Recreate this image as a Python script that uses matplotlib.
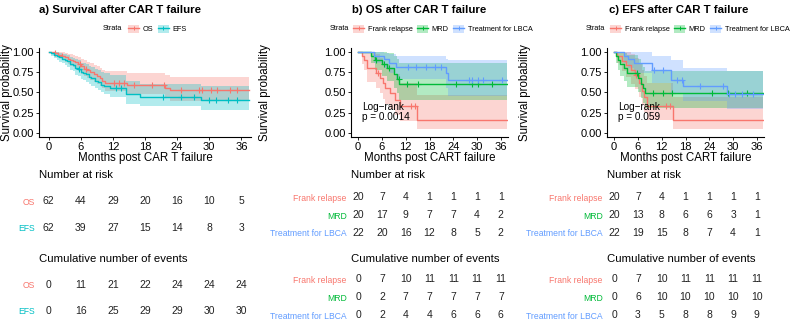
import matplotlib
matplotlib.use("Agg")
import matplotlib.pyplot as plt
from matplotlib.patches import Patch
from matplotlib.lines import Line2D
import numpy as np

plt.rcParams["font.family"] = ["Liberation Sans", "DejaVu Sans"]

RED = "#F8766D"
TEAL = "#00BFC4"
GREEN = "#00BA38"
BLUE = "#619CFF"

# months shown under the curves
risk_times = [0, 6, 12, 18, 24, 30, 36]

# ---------- a) all patients, OS vs EFS ----------
a_os_t = [0, 1.2, 1.8, 2.5, 3.0, 3.6, 4.0, 4.5, 5.0, 5.5, 6.0, 6.6, 7.2, 7.8, 8.4, 9.0, 9.6, 10.0, 10.5, 14.6, 21.7, 22.6]
a_os_s = [1, 0.984, 0.968, 0.952, 0.935, 0.919, 0.903, 0.887, 0.871, 0.855, 0.823, 0.79, 0.774, 0.758, 0.725, 0.709, 0.677, 0.645, 0.62, 0.59, 0.555, 0.525]
a_os_lo = [1, 0.95, 0.93, 0.90, 0.88, 0.85, 0.83, 0.81, 0.79, 0.77, 0.73, 0.70, 0.68, 0.66, 0.63, 0.61, 0.58, 0.55, 0.52, 0.48, 0.43, 0.39]
a_os_hi = [1, 1, 1, 1, 0.99, 0.98, 0.97, 0.96, 0.95, 0.94, 0.92, 0.90, 0.88, 0.87, 0.84, 0.83, 0.80, 0.78, 0.76, 0.74, 0.72, 0.69]
a_os_cens = [1.2, 2.5, 5.8, 7.0, 12.2, 13.1, 14.0, 16.0, 19.4, 21.5, 24.7, 28.0, 28.6, 30.3, 31.5, 33.8, 35.2]

a_efs_t = [0, 0.5, 1.0, 1.5, 2.0, 2.5, 3.0, 3.5, 4.0, 4.5, 5.0, 5.5, 6.0, 6.5, 7.0, 7.5, 8.0, 8.6, 9.2, 9.8, 10.4, 11.5, 14.5, 17.1, 28.5]
a_efs_s = [1, 0.984, 0.968, 0.952, 0.935, 0.919, 0.903, 0.887, 0.855, 0.839, 0.806, 0.79, 0.758, 0.742, 0.726, 0.694, 0.677, 0.645, 0.629, 0.597, 0.58, 0.56, 0.48, 0.45, 0.41]
a_efs_lo = [1, 0.95, 0.93, 0.90, 0.88, 0.86, 0.84, 0.82, 0.78, 0.76, 0.72, 0.70, 0.67, 0.65, 0.63, 0.60, 0.58, 0.55, 0.53, 0.50, 0.48, 0.45, 0.36, 0.33, 0.28]
a_efs_hi = [1, 1, 1, 1, 0.99, 0.98, 0.97, 0.96, 0.94, 0.93, 0.91, 0.90, 0.87, 0.86, 0.85, 0.83, 0.81, 0.79, 0.78, 0.75, 0.74, 0.72, 0.64, 0.61, 0.58]
a_efs_cens = [5.6, 12.6, 13.5, 21.3, 24.7, 27.2, 30.0, 31.2, 33.5, 35.2]

a_labels = ["OS", "EFS"]
a_risk = [[62, 44, 29, 20, 16, 10, 5],
          [62, 39, 27, 15, 14, 8, 3]]
a_events = [[0, 11, 21, 22, 24, 24, 24],
            [0, 16, 25, 29, 29, 30, 30]]

# ---------- b) OS by group ----------
groups = ["Frank relapse", "MRD", "Treatment for LBCA"]

b_fr_t = [0, 0.9, 1.6, 2.3, 4.6, 5.4, 6.2, 6.8, 8.1, 9.3, 10.5, 14.8]
b_fr_s = [1, 0.95, 0.90, 0.80, 0.74, 0.68, 0.62, 0.56, 0.49, 0.41, 0.33, 0.16]
b_fr_lo = [1, 0.85, 0.78, 0.63, 0.56, 0.49, 0.42, 0.36, 0.29, 0.22, 0.15, 0.05]
b_fr_hi = [1, 1, 1, 1, 0.97, 0.93, 0.89, 0.85, 0.80, 0.73, 0.62, 0.47]
b_fr_cens = [5.0, 13.4, 14.3]

b_mrd_t = [0, 3.3, 4.3, 6.0, 7.3, 9.0, 9.8, 10.4]
b_mrd_s = [1, 0.95, 0.90, 0.85, 0.80, 0.73, 0.67, 0.60]
b_mrd_lo = [1, 0.86, 0.78, 0.71, 0.64, 0.56, 0.49, 0.41]
b_mrd_hi = [1, 1, 1, 1, 0.99, 0.95, 0.91, 0.87]
b_mrd_cens = [4.4, 6.6, 7.9, 10.2, 12.3, 15.0, 24.6, 28.6, 30.3, 33.7]

b_lb_t = [0, 3.9, 6.4, 7.8, 9.5, 22.1, 22.7]
b_lb_s = [1, 0.95, 0.91, 0.87, 0.82, 0.74, 0.65]
b_lb_lo = [1, 0.87, 0.80, 0.74, 0.67, 0.56, 0.46]
b_lb_hi = [1, 1, 0.99, 0.97, 0.95, 0.92, 0.90]
b_lb_cens = [12.5, 14.5, 17.0, 19.3, 21.0, 28.0, 28.8, 30.3, 31.5, 36.2]

b_risk = [[20, 7, 4, 1, 1, 1, 1],
          [20, 17, 9, 7, 7, 4, 2],
          [22, 20, 16, 12, 8, 5, 2]]
b_events = [[0, 7, 10, 11, 11, 11, 11],
            [0, 2, 7, 7, 7, 7, 7],
            [0, 2, 4, 4, 6, 6, 6]]

# ---------- c) EFS by group ----------
c_fr_t = [0, 0.8, 2.1, 3.0, 4.2, 5.3, 6.2, 7.0, 7.6, 8.2, 14.8]
c_fr_s = [1, 0.95, 0.89, 0.84, 0.78, 0.72, 0.62, 0.52, 0.44, 0.33, 0.16]
c_fr_lo = [1, 0.86, 0.77, 0.69, 0.61, 0.54, 0.44, 0.34, 0.26, 0.16, 0.05]
c_fr_hi = [1, 1, 1, 1, 0.97, 0.93, 0.86, 0.78, 0.70, 0.62, 0.45]
c_fr_cens = [5.5, 13.1, 14.0]

c_mrd_t = [0, 0.5, 1.0, 1.5, 2.5, 3.3, 6.0, 6.7, 7.3, 7.9]
c_mrd_s = [1, 0.95, 0.90, 0.85, 0.80, 0.74, 0.68, 0.61, 0.55, 0.49]
c_mrd_lo = [1, 0.86, 0.78, 0.71, 0.64, 0.57, 0.50, 0.43, 0.37, 0.31]
c_mrd_hi = [1, 1, 1, 1, 0.99, 0.96, 0.92, 0.87, 0.82, 0.77]
c_mrd_cens = [5.8, 9.9, 12.2, 14.7, 24.6, 28.6, 33.6]

c_lb_t = [0, 2.5, 3.5, 5.0, 9.6, 14.3, 17.3, 28.4]
c_lb_s = [1, 0.95, 0.91, 0.87, 0.78, 0.66, 0.58, 0.48]
c_lb_lo = [1, 0.87, 0.80, 0.74, 0.62, 0.48, 0.40, 0.30]
c_lb_hi = [1, 1, 1, 1, 0.95, 0.90, 0.80, 0.77]
c_lb_cens = [10.1, 12.3, 15.8, 17.0, 21.6, 27.5, 28.9, 30.5, 32.2, 35.0]

c_risk = [[20, 7, 4, 1, 1, 1, 1],
          [20, 13, 8, 6, 6, 3, 1],
          [22, 19, 15, 8, 7, 4, 1]]
c_events = [[0, 7, 10, 11, 11, 11, 11],
            [0, 6, 10, 10, 10, 10, 10],
            [0, 3, 5, 8, 8, 9, 9]]

END = 37.5  # last follow-up drawn

W, H = 790, 333
fig = plt.figure(figsize=(W / 100, H / 100), dpi=100)


def px_axes(l, t, r, b):
    return fig.add_axes([l / W, 1 - b / H, (r - l) / W, (b - t) / H])


def km_plot(l, r, curves, colors, xlabel, ylab_x, pval=None):
    ax = px_axes(l, 48, r, 137)
    for (t, s, lo, hi, cens), col in zip(curves, colors):
        tt = t + [END]
        ax.fill_between(tt, lo + [lo[-1]], hi + [hi[-1]], step="post",
                        color=col, alpha=0.3, lw=0)
    for (t, s, lo, hi, cens), col in zip(curves, colors):
        ax.step(t + [END], s + [s[-1]], where="post", color=col, lw=1.0)
        k = np.searchsorted(t, cens, side="right") - 1
        ax.plot(cens, np.asarray(s)[k], ls="none", marker="+", ms=4.5,
                mew=0.8, color=col)
    ax.set_xlim(-1.8, 37.8)
    ax.set_ylim(-0.05, 1.05)
    ax.set_xticks(risk_times)
    ax.set_yticks([0, 0.25, 0.5, 0.75, 1.0])
    ax.yaxis.set_major_formatter("{x:.2f}")
    ax.tick_params(labelsize=8, length=2.5, width=0.6, pad=1.2, colors="black")
    for side in ["top", "right"]:
        ax.spines[side].set_visible(False)
    for side in ["left", "bottom"]:
        ax.spines[side].set_linewidth(0.8)
    ax.set_xlabel(xlabel, fontsize=8.3, labelpad=0)
    ax.set_ylabel("Survival probability", fontsize=8.3)
    ax.yaxis.set_label_coords((ylab_x + 6 - l) / (r - l), 0.5)
    if pval:
        ax.text(0.9, 0.26, "Log\u2212rank\np = " + pval, fontsize=7.2,
                va="center", linespacing=0.95)
    return ax


def table(l, r, title, title_y, row_ys, labels, colors, rows):
    sp = row_ys[1] - row_ys[0]
    ax = px_axes(l, row_ys[0] - sp / 2, r, row_ys[-1] + sp / 2)
    n = len(rows)
    ax.set_xlim(-1.8, 37.8)
    ax.set_ylim(n - 0.5, -0.5)
    for i, row in enumerate(rows):
        for t, v in zip(risk_times, row):
            ax.text(t, i, str(v), ha="center", va="center", fontsize=7.5,
                    color="#222222")
    ax.set_yticks(range(n))
    ax.set_yticklabels(labels, fontsize=6.2)
    for lab, c in zip(ax.get_yticklabels(), colors):
        lab.set_color(c)
    ax.tick_params(axis="y", length=0, pad=3)
    ax.set_xticks([])
    for s in ax.spines.values():
        s.set_visible(False)
    ax.patch.set_visible(False)
    ax.text(0, (title_y - row_ys[0]) / sp, title, fontsize=8.2, va="center",
            transform=ax.get_yaxis_transform())


def legend(strata_x, key_x, labels, colors):
    fig.text(strata_x / W, 1 - 29 / H, "Strata", fontsize=5.3, va="center")
    handles = [(Patch(facecolor=c, alpha=0.3, lw=0),
                Line2D([], [], color=c, lw=1.0, marker="+", ms=3.5, mew=0.7))
               for c in colors]
    fig.legend(handles, labels, loc="center left",
               bbox_to_anchor=(key_x / W, 1 - 29 / H), ncol=len(labels),
               frameon=False, fontsize=5.3, handlelength=1.5, handleheight=1.3,
               handletextpad=0.5, columnspacing=0.6, borderpad=0,
               borderaxespad=0)


# panel a
cols_a = [RED, TEAL]
km_plot(39, 251,
        [(a_os_t, a_os_s, a_os_lo, a_os_hi, a_os_cens),
         (a_efs_t, a_efs_s, a_efs_lo, a_efs_hi, a_efs_cens)],
        cols_a, "Months post CAR T failure", 7)
fig.text(39 / W, 1 - 10 / H, "a) Survival after CAR T failure", fontsize=8.2,
         fontweight="bold", va="center")
legend(103, 128, a_labels, cols_a)
table(39, 251, "Number at risk", 175, [201, 227.5], a_labels, cols_a, a_risk)
table(39, 251, "Cumulative number of events", 259, [284.5, 311], a_labels, cols_a, a_events)

# panel b
cols_g = [RED, GREEN, BLUE]
km_plot(351, 508,
        [(b_fr_t, b_fr_s, b_fr_lo, b_fr_hi, b_fr_cens),
         (b_mrd_t, b_mrd_s, b_mrd_lo, b_mrd_hi, b_mrd_cens),
         (b_lb_t, b_lb_s, b_lb_lo, b_lb_hi, b_lb_cens)],
        cols_g, "Months post CART failure", 265, pval="0.0014")
fig.text(352 / W, 1 - 10 / H, "b) OS after CAR T failure", fontsize=8.2,
         fontweight="bold", va="center")
legend(330, 353, groups, cols_g)
table(351, 508, "Number at risk", 175, [197, 215, 233], groups, cols_g, b_risk)
table(351, 508, "Cumulative number of events", 258.5, [279.5, 297.5, 315.5], groups, cols_g, b_events)

# panel c
km_plot(607, 764,
        [(c_fr_t, c_fr_s, c_fr_lo, c_fr_hi, c_fr_cens),
         (c_mrd_t, c_mrd_s, c_mrd_lo, c_mrd_hi, c_mrd_cens),
         (c_lb_t, c_lb_s, c_lb_lo, c_lb_hi, c_lb_cens)],
        cols_g, "Months post CART failure", 525, pval="0.059")
fig.text(609 / W, 1 - 10 / H, "c) EFS after CAR T failure", fontsize=8.2,
         fontweight="bold", va="center")
legend(586, 610, groups, cols_g)
table(607, 764, "Number at risk", 175, [197, 215, 233], groups, cols_g, c_risk)
table(607, 764, "Cumulative number of events", 258.5, [279.5, 297.5, 315.5], groups, cols_g, c_events)

fig.savefig("out.png", dpi=100)
